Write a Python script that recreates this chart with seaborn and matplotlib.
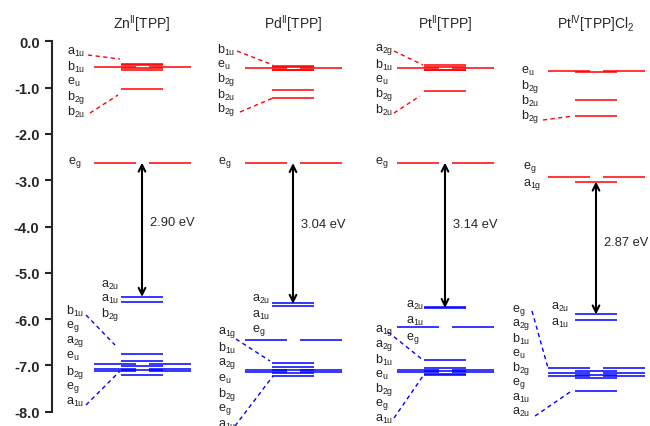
import matplotlib
matplotlib.use("Agg")
import matplotlib.pyplot as plt
import seaborn as sns

sns.set_style("ticks")
plt.rcParams["font.family"] = ["Liberation Sans", "DejaVu Sans"]
plt.rcParams["mathtext.fontset"] = "custom"
plt.rcParams["mathtext.rm"] = "Liberation Sans"
plt.rcParams["mathtext.it"] = "Liberation Sans:italic"
plt.rcParams["mathtext.default"] = "regular"

# --- data (eV) ---
titles = ["Zn$^{II}$[TPP]", "Pd$^{II}$[TPP]", "Pt$^{II}$[TPP]", "Pt$^{IV}$[TPP]Cl$_2$"]

# non-degenerate levels (short bars) and degenerate e levels (long split bars)
zn_single = [-0.49, -0.515, -0.585, -0.61, -1.03, -5.52, -5.62,
             -6.76, -6.90, -7.02, -7.10, -7.20]
zn_pair = [-0.55, -2.62, -6.97, -7.08, -7.13]
pd_single = [-0.53, -0.545, -0.615, -0.63, -1.06, -1.23, -5.66, -5.71,
             -6.95, -7.04, -7.11, -7.17, -7.22]
pd_pair = [-0.58, -2.63, -6.45, -7.09, -7.14]
pt_single = [-0.51, -0.545, -0.615, -0.63, -1.08, -5.745, -5.765, -6.88,
             -7.06, -7.12, -7.18, -7.21]
pt_pair = [-0.58, -2.62, -6.18, -7.09, -7.14]
pt4_single = [-0.67, -1.27, -1.62, -3.03, -5.90, -6.02,
              -7.13, -7.20, -7.27, -7.56]
pt4_pair = [-0.65, -2.94, -7.06, -7.17, -7.23]

singles = [zn_single, pd_single, pt_single, pt4_single]
pairs = [zn_pair, pd_pair, pt_pair, pt4_pair]

gap_top = [-2.62, -2.63, -2.62, -3.03]
gap_bottom = [-5.52, -5.67, -5.76, -5.90]
gap_text = ["2.90 eV", "3.04 eV", "3.14 eV", "2.87 eV"]

# orbital label groups: (x px, first y px, step px, labels)
label_groups = [
    (67, 52, 15.2, ["a$_{1u}$", "b$_{1u}$", "e$_u$", "b$_{2g}$", "b$_{2u}$"]),
    (217, 50, 15.0, ["b$_{1u}$", "e$_u$", "b$_{2g}$", "b$_{2u}$", "b$_{2g}$"]),
    (375, 50, 15.0, ["a$_{2g}$", "b$_{1u}$", "e$_u$", "b$_{2g}$", "b$_{2u}$"]),
    (521, 71, 15.2, ["e$_u$", "b$_{2g}$", "b$_{2u}$", "b$_{2g}$"]),
    (68, 163, 0, ["e$_g$"]),
    (218, 163, 0, ["e$_g$"]),
    (375, 163, 0, ["e$_g$"]),
    (523, 168, 17, ["e$_g$", "a$_{1g}$"]),
    (101, 285, 14.8, ["a$_{2u}$", "a$_{1u}$", "b$_{2g}$"]),
    (252, 299, 16, ["a$_{2u}$", "a$_{1u}$", "e$_g$"]),
    (406, 305, 16.5, ["a$_{2u}$", "a$_{1u}$", "e$_g$"]),
    (551, 307, 16, ["a$_{2u}$", "a$_{1u}$"]),
    (66, 311, 15.3, ["b$_{1u}$", "e$_g$", "a$_{2g}$", "e$_u$", "b$_{2g}$", "e$_g$", "a$_{1u}$"]),
    (218, 333, 15.4, ["a$_{1g}$", "b$_{1u}$", "a$_{2g}$", "e$_u$", "b$_{2g}$", "e$_g$", "a$_{1u}$"]),
    (375, 331, 14.7, ["a$_{1g}$", "a$_{2g}$", "b$_{1u}$", "e$_u$", "b$_{2g}$", "e$_g$", "a$_{1u}$"]),
    (512, 310, 14.7, ["e$_g$", "a$_{2g}$", "b$_{1u}$", "e$_u$", "b$_{2g}$", "e$_g$", "a$_{1u}$", "a$_{2u}$"]),
]

# dashed connectors (x0, y0, x1, y1) in px
connectors = [
    (88, 56, 120, 60, "red"), (90, 114, 118, 96, "red"),
    (237, 52, 273, 66, "red"), (240, 113, 273, 99, "red"),
    (394, 52, 423, 66, "red"), (394, 114, 420, 97, "red"),
    (543, 121, 573, 117, "red"),
    (86, 316, 115, 346, "blue"), (86, 406, 120, 372, "blue"),
    (236, 340, 270, 362, "blue"), (235, 427, 273, 377, "blue"),
    (388, 333, 423, 361, "blue"), (394, 419, 423, 377, "blue"),
    (532, 312, 548, 369, "blue"), (535, 417, 573, 391, "blue"),
]

# --- layout ---
centers = [142, 293, 445, 596]
half_long, half_short, half_gap = 48.5, 21, 6.5
Y0, SCALE = 42.3, 46.3


def e(ypx):
    return -(ypx - Y0) / SCALE


fig = plt.figure(figsize=(6.5, 4.27), dpi=100)
ax = fig.add_axes([52 / 650, (427 - 412.7) / 427, 598 / 650, 370.4 / 427])
ax.set_xlim(52, 650)
ax.set_ylim(-8, 0)


def col(v):
    return "#ff0000" if v > -4 else "#0000ff"


for cx, sing, pair in zip(centers, singles, pairs):
    for v in sing:
        ax.hlines(v, cx - half_short, cx + half_short, color=col(v), lw=1.1)
    for v in pair:
        ax.hlines(v, cx - half_long, cx - half_gap, color=col(v), lw=1.1)
        ax.hlines(v, cx + half_gap, cx + half_long, color=col(v), lw=1.1)

for cx, t in zip(centers, titles):
    ax.text(cx, e(24), t, ha="center", va="center", fontsize=10)

for cx, top, bot, txt, ty in zip(centers, gap_top, gap_bottom, gap_text, [223, 225, 225, 243]):
    ax.annotate("", xy=(cx, top), xytext=(cx, bot),
                arrowprops=dict(arrowstyle="<->", lw=1.5, color="black",
                                shrinkA=0, shrinkB=0, mutation_scale=12))
    ax.text(cx + 8, e(ty), txt, ha="left", va="center", fontsize=9.3)

for x, y0, step, labs in label_groups:
    for i, lab in enumerate(labs):
        ax.text(x, e(y0 + i * step), lab, ha="left", va="center", fontsize=9,
                color="#222222")

for x0, y0, x1, y1, c in connectors:
    ax.plot([x0, x1], [e(y0), e(y1)], color=c, lw=1.0, ls=(0, (3, 2.5)),
            clip_on=False)

sns.despine(ax=ax, bottom=True)
ax.set_xticks([])
ticks = list(range(0, -9, -1))
ax.set_yticks(ticks)
ax.set_yticklabels([f"{abs(t):.1f}" if t == 0 else f"{t:.1f}" for t in ticks],
                   fontweight="bold", fontsize=10.5)
ax.tick_params(axis="y", length=5, width=1.5, direction="out", pad=4)
ax.spines["left"].set_linewidth(1.5)
ax.patch.set_alpha(0)

fig.savefig("out.png", dpi=100)
